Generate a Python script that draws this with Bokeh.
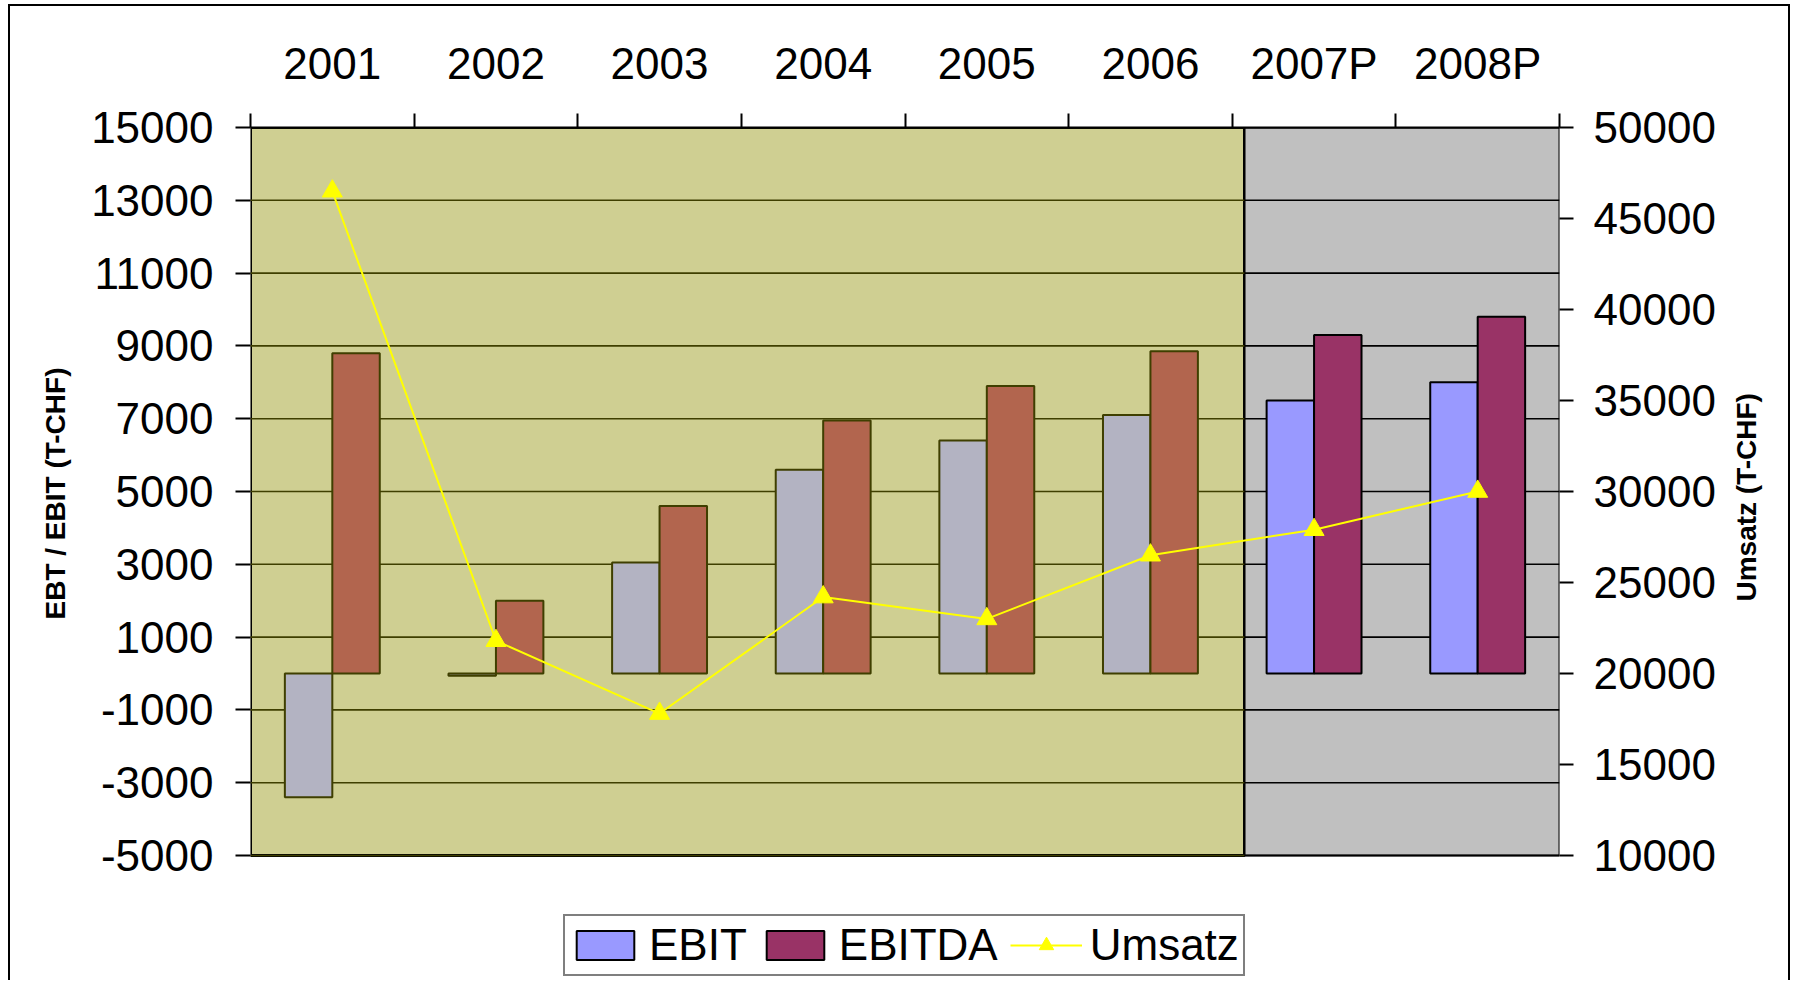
import math
from bokeh.plotting import figure
from bokeh.models import (Range1d, LinearAxis, FixedTicker, Legend, LegendItem,
                          ColumnDataSource, PrintfTickFormatter, Title)
from bokeh.embed import file_html
from bokeh.resources import INLINE

# ---------------- data ----------------
categories = ["2001", "2002", "2003", "2004", "2005", "2006", "2007P", "2008P"]
ebit = [-3400, -60, 3050, 5600, 6400, 7100, 7500, 8000]
ebitda = [8800, 2000, 4600, 6950, 7900, 8850, 9300, 9800]
umsatz = [46500, 21800, 17800, 24200, 23000, 26500, 27900, 30000]
plan = [False, False, False, False, False, False, True, True]
left_ticks = [-5000, -3000, -1000, 1000, 3000, 5000, 7000, 9000, 11000, 13000, 15000]
right_ticks = [10000, 15000, 20000, 25000, 30000, 35000, 40000, 45000, 50000]
left_title = "EBT / EBIT (T-CHF)"
right_title = "Umsatz (T-CHF)"

# ---------------- layout / style ----------------
FONT = "Liberation Sans"
OLIVE = "#CFCF92"
GRAY = "#C0C0C0"
OLIVE_LINE = "#3F3F00"
n = len(categories)
olive_end = 6.075
bar_w = 0.29

W, H = 1782, 976
FRAME_TOP = 123        # px from figure top
DATA_BOTTOM = 851      # px where the value axes end
FRAME_LEFT, FRAME_RIGHT = 242, 1551

# the plot frame continues below the value axes so the legend can sit there
lo, hi = left_ticks[0], left_ticks[-1]
per_px_l = (hi - lo) / (DATA_BOTTOM - FRAME_TOP)
y_start_l = lo - (H - DATA_BOTTOM) * per_px_l
rlo, rhi = right_ticks[0], right_ticks[-1]
per_px_r = (rhi - rlo) / (DATA_BOTTOM - FRAME_TOP)
y_start_r = rlo - (H - DATA_BOTTOM) * per_px_r

p = figure(width=W, height=H, x_range=Range1d(0, n), y_range=Range1d(y_start_l, hi),
           x_axis_location="above", output_backend="svg", toolbar_location=None,
           min_border_left=FRAME_LEFT, min_border_right=W - FRAME_RIGHT,
           min_border_top=FRAME_TOP, min_border_bottom=0)
p.margin = (4, 0, 0, 8)
p.extra_y_ranges = {"ums": Range1d(y_start_r, rhi)}
p.outline_line_color = None
p.grid.visible = False
p.background_fill_color = None
p.border_fill_color = None
p.styles = {"box-shadow": "inset 2px 2px 0 0 #000, inset -2px 0 0 0 #000"}

# backgrounds
p.quad(left=[0], right=[olive_end], bottom=[lo], top=[hi],
       fill_color=OLIVE, line_color="black", line_width=3)
p.quad(left=[olive_end], right=[n], bottom=[lo], top=[hi],
       fill_color=GRAY, line_color="black", line_width=2)

# grid lines
p.segment(x0=[0] * len(left_ticks), x1=[olive_end] * len(left_ticks), y0=left_ticks,
          y1=left_ticks, line_color=OLIVE_LINE, line_width=1.6)
p.segment(x0=[olive_end] * len(left_ticks), x1=[n] * len(left_ticks), y0=left_ticks,
          y1=left_ticks, line_color="black", line_width=1.6)

# bars
xc = [i + 0.5 for i in range(n)]
src = ColumnDataSource(dict(
    x_ebit=[x - bar_w / 2 for x in xc],
    x_ebitda=[x + bar_w / 2 for x in xc],
    ebit=ebit, ebitda=ebitda,
    c_ebit=["#9999FF" if pl else "#B3B3C2" for pl in plan],
    c_ebitda=["#993366" if pl else "#B2654E" for pl in plan],
    c_line=["black" if pl else OLIVE_LINE for pl in plan],
))
r_ebit = p.vbar(x="x_ebit", top="ebit", bottom=0, width=bar_w, source=src,
                fill_color="c_ebit", line_color="c_line", line_width=2)
r_ebitda = p.vbar(x="x_ebitda", top="ebitda", bottom=0, width=bar_w, source=src,
                  fill_color="c_ebitda", line_color="c_line", line_width=2)

# Umsatz line
r_line = p.line(x=xc, y=umsatz, y_range_name="ums", line_color="#FFFF00", line_width=2)
r_tri = p.scatter(x=xc, y=umsatz, y_range_name="ums", marker="triangle", size=20,
                  fill_color="#FFFF00", line_color="#FFFF00")

# top axis (categories)
xa = p.xaxis[0]
xa.ticker = FixedTicker(ticks=xc, minor_ticks=list(range(n + 1)))
xa.major_label_overrides = {x: c for x, c in zip(xc, categories)}
xa.major_tick_out = 0
xa.major_tick_in = 0
xa.minor_tick_out = 14
xa.minor_tick_in = 0
xa.minor_tick_line_color = "black"
xa.minor_tick_line_width = 2
xa.axis_line_color = "black"
xa.axis_line_width = 2
xa.major_label_standoff = 26
xa.major_label_text_font = FONT
xa.major_label_text_font_size = "44px"
xa.major_label_text_color = "black"

# left axis
ya = p.yaxis[0]
ya.ticker = FixedTicker(ticks=left_ticks)
ya.formatter = PrintfTickFormatter(format="%d")
ya.major_tick_out = 15
ya.major_tick_in = 0
ya.minor_tick_out = 0
ya.minor_tick_in = 0
ya.major_tick_line_width = 2
ya.axis_line_color = None
ya.major_label_standoff = 22
ya.major_label_text_font = FONT
ya.major_label_text_font_size = "44px"
ya.major_label_text_color = "black"

p.add_layout(Title(text=left_title, align="left", offset=H - 615, standoff=35,
                   text_font=FONT, text_font_style="bold", text_font_size="28px",
                   text_color="black"), "left")

# right axis
ra = LinearAxis(y_range_name="ums", ticker=FixedTicker(ticks=right_ticks))
ra.formatter = PrintfTickFormatter(format="%d")
ra.major_tick_out = 14
ra.major_tick_in = 0
ra.minor_tick_out = 0
ra.minor_tick_in = 0
ra.major_tick_line_width = 2
ra.axis_line_color = None
ra.major_label_standoff = 20
ra.major_label_text_font = FONT
ra.major_label_text_font_size = "44px"
ra.major_label_text_color = "black"
p.add_layout(ra, "right")

# right axis title (single rotated label on an outer axis)
title_pos = rhi - (597 - FRAME_TOP) * per_px_r
rt = LinearAxis(y_range_name="ums", ticker=FixedTicker(ticks=[title_pos], minor_ticks=[]))
rt.major_label_overrides = {title_pos: right_title}
rt.major_label_orientation = math.pi / 2
rt.major_tick_out = 0
rt.major_tick_in = 0
rt.minor_tick_out = 0
rt.minor_tick_in = 0
rt.axis_line_color = None
rt.major_label_standoff = 28
rt.major_label_text_font = FONT
rt.major_label_text_font_style = "bold"
rt.major_label_text_font_size = "28px"
rt.major_label_text_color = "black"
p.add_layout(rt, "right")

# legend (inside the lower, axis-free part of the frame)
legend = Legend(items=[
    LegendItem(label="EBIT", renderers=[r_ebit], index=6),
    LegendItem(label="EBITDA", renderers=[r_ebitda], index=6),
    LegendItem(label="Umsatz", renderers=[r_line, r_tri]),
], location=(555 - FRAME_LEFT, 4), orientation="horizontal")
legend.label_text_font = FONT
legend.label_text_font_size = "44px"
legend.label_text_color = "black"
legend.glyph_width = 72
legend.glyph_height = 36
legend.label_standoff = 8
legend.spacing = 12
legend.padding = 4
legend.margin = 0
legend.border_line_color = "black"
legend.border_line_width = 2
legend.background_fill_color = "white"
legend.background_fill_alpha = 1
p.add_layout(legend)

open("out.html", "w").write(file_html(p, INLINE))
